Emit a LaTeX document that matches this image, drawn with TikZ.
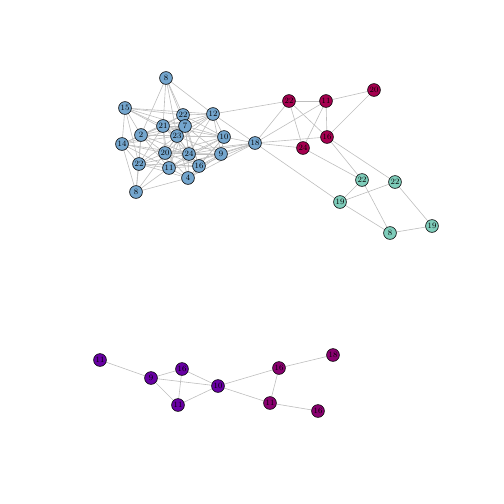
\documentclass[tikz,border=0pt]{standalone}
\pgfdeclarelayer{bg}
\pgfsetlayers{bg,main}
\begin{document}
\begin{tikzpicture}[x=1pt,y=-1pt,
  vtx/.style={circle,draw=black,line width=0.6pt,minimum size=12.8pt,inner sep=0pt,font=\fontsize{8.2}{8}\selectfont},
  bl/.style={vtx,fill=cblue},
  rd/.style={vtx,fill=cred},
  tl/.style={vtx,fill=cteal},
  pu/.style={vtx,fill=cpurp},
  mg/.style={vtx,fill=cmag},
  edge/.style={draw=cedge,line width=0.6pt}]
\definecolor{cblue}{RGB}{116,166,206}
\definecolor{cred}{RGB}{166,0,80}
\definecolor{cteal}{RGB}{127,205,187}
\definecolor{cpurp}{RGB}{104,0,164}
\definecolor{cmag}{RGB}{138,0,112}
\definecolor{cedge}{RGB}{190,190,190}
\useasboundingbox (0,0) rectangle (504,504);
% blue cluster
\node[bl] (b8t) at (166,78) {8};
\node[bl] (b15) at (125,108) {15};
\node[bl] (b22u) at (183,115) {22};
\node[bl] (b12) at (213,114) {12};
\node[bl] (b21) at (163,126) {21};
\node[bl] (b7) at (185,126) {7};
\node[bl] (b2) at (141,135) {2};
\node[bl] (b23) at (177,136) {23};
\node[bl] (b14) at (122,144) {14};
\node[bl] (b10) at (224,137) {10};
\node[bl] (b18) at (255,143) {18};
\node[bl] (b20) at (165,153) {20};
\node[bl] (b24) at (189,154) {24};
\node[bl] (b9) at (221,154) {9};
\node[bl] (b22l) at (139,164) {22};
\node[bl] (b11) at (169,168) {11};
\node[bl] (b16) at (199,166) {16};
\node[bl] (b4) at (188,178) {4};
\node[bl] (b8b) at (136,192) {8};
% red
\node[rd] (r22) at (289,101) {22};
\node[rd] (r11) at (326,101) {11};
\node[rd] (r20) at (374,90) {20};
\node[rd] (r16) at (327,137) {16};
\node[rd] (r24) at (303,148) {24};
% teal
\node[tl] (t22a) at (362,180) {22};
\node[tl] (t22b) at (395,182) {22};
\node[tl] (t19) at (340,202) {19};
\node[tl] (t8) at (390,233) {8};
\node[tl] (t19b) at (432,226) {19};
% bottom
\node[pu] (p11) at (100,360) {11};
\node[pu] (p9) at (151,378) {9};
\node[pu] (p16) at (182,369) {16};
\node[pu] (p11b) at (178,405) {11};
\node[pu] (p10) at (218,386) {10};
\node[mg] (m16) at (279,368) {16};
\node[mg] (m18) at (333,355) {18};
\node[mg] (m11) at (270,403) {11};
\node[mg] (m16b) at (318,411) {16};
\begin{pgfonlayer}{bg}
\foreach \a/\b in {
 b8t/b2,b8t/b21,b8t/b22u,b8t/b7,b8t/b23,b8t/b12,
 b15/b14,b15/b2,b15/b22l,b15/b21,b15/b22u,b15/b7,b15/b23,b15/b12,
 b22u/b12,b22u/b21,b22u/b7,b22u/b23,b22u/b2,b22u/b10,b22u/b24,b22u/b16,
 b12/b7,b12/b23,b12/b10,b12/b9,b12/b18,b12/b24,b12/b20,b12/b21,b12/r22,
 b21/b2,b21/b7,b21/b23,b21/b20,b21/b10,b21/b14,b21/b22l,b21/b11,b21/b24,
 b7/b2,b7/b23,b7/b10,b7/b24,b7/b20,b7/b9,b7/b16,b7/b11,b7/b14,
 b2/b14,b2/b23,b2/b20,b2/b22l,b2/b24,b2/b11,b2/b10,b2/b8b,
 b23/b20,b23/b24,b23/b10,b23/b9,b23/b11,b23/b16,b23/b4,b23/b22l,b23/b14,
 b14/b22l,b14/b8b,b14/b20,b14/b24,b14/b11,
 b10/b18,b10/b9,b10/b24,b10/b16,b10/b20,b10/b11,b10/b4,
 b18/b9,b18/b24,b18/b16,b18/b20,b18/b4,b18/b11,
 b20/b24,b20/b11,b20/b22l,b20/b16,b20/b4,b20/b8b,b20/b9,
 b24/b11,b24/b16,b24/b4,b24/b9,b24/b22l,
 b9/b16,b9/b4,b9/b11,
 b22l/b11,b22l/b8b,b22l/b4,b22l/b16,
 b11/b4,b11/b16,b11/b8b,b16/b4,b4/b8b,
 r22/r11,r22/r24,r22/r16,r22/b18,r11/r20,r11/r16,r11/r24,r11/b18,
 r20/r16,r16/b18,r24/b18,
 r16/t22a,r16/t22b,r24/t22a,b18/t19,t22a/t19,t22a/t8,t22b/t19,t22b/t19b,
 t19/t8,t8/t19b,
 p11/p9,p9/p16,p9/p10,p9/p11b,p16/p10,p16/p11b,p11b/p10,p10/m16,p10/m11,
 m16/m18,m16/m11,m11/m16b}
 {\path[edge] (\a.center) -- (\b.center);}
\end{pgfonlayer}
\end{tikzpicture}
\end{document}
